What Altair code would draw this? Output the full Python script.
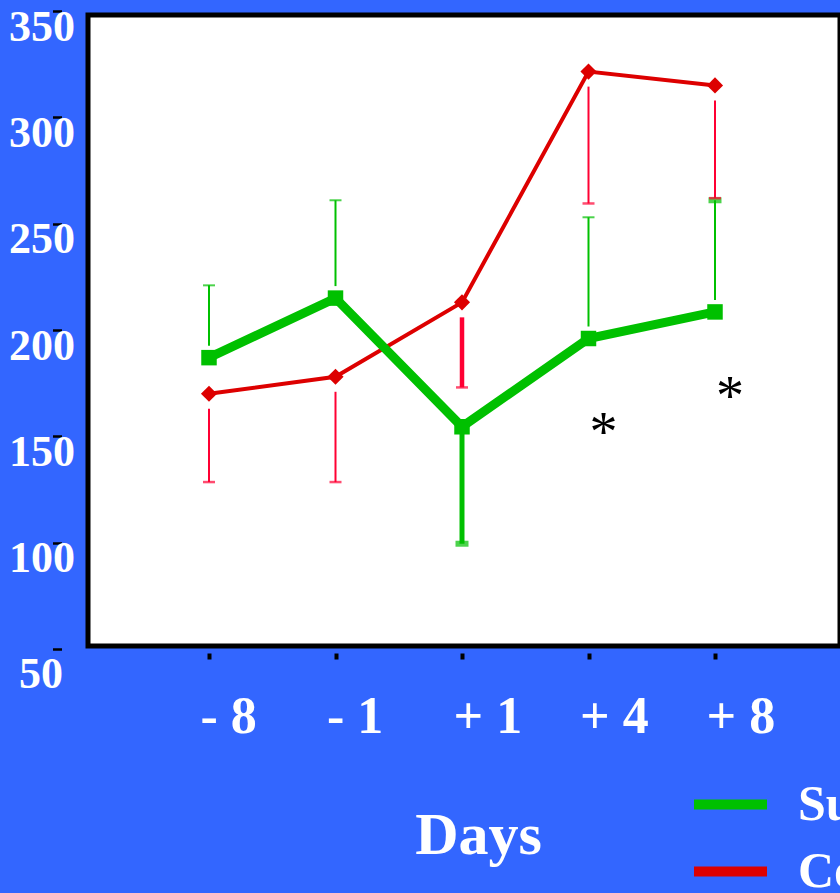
import altair as alt
import pandas as pd

# Days relative to the procedure
days = ["- 8", "- 1", "+ 1", "+ 4", "+ 8"]
groups = ["Surgery", "Control"]

# Group means and the far end of each one-sided error bar
surgery_mean = [187, 215, 154.5, 196, 208.5]
surgery_bar_end = [221, 261, 99.5, 253, 261]
control_mean = [170, 178, 213, 321.5, 315]
control_bar_end = [128.5, 128.5, 173, 259.5, 262]

# Significance markers
sig_days = ["+ 4", "+ 8"]
sig_level = [143, 160]

y_ticks = [50, 100, 150, 200, 250, 300, 350]

GREEN = "#00C000"
RED_LINE = "#DD0000"
RED_BAR = "#FF0033"
BLUE = "#3366FF"
SERIF = "Liberation Serif"

rows = []
for g, means, ends in [("Surgery", surgery_mean, surgery_bar_end),
                       ("Control", control_mean, control_bar_end)]:
    for d, m, e in zip(days, means, ends):
        rows.append({"day": d, "group": g, "mean": m, "end": e})
df = pd.DataFrame(rows)
sig = pd.DataFrame({"day": sig_days, "level": sig_level})

x_scale = alt.Scale(type="point", domain=days, range=[121, 627], padding=0)
y_scale = alt.Scale(domain=[50, 350], range=[634, -4], nice=False, zero=False)

x_axis = alt.Axis(
    domain=False, grid=False, ticks=True, tickColor="black", tickSize=6,
    tickWidth=4, offset=7, labelColor="white", labelFont=SERIF,
    labelFontWeight="bold", labelFontSize=52, labelAlign="left", labelAngle=0,
    labelOffset=-9, labelPadding=32, labelBaseline="top",
    title="Days", titleColor="white", titleFont=SERIF, titleFontWeight="bold",
    titleFontSize=60, titleX=390, titleY=200, titleBaseline="alphabetic",
    titleAlign="center", labelOverlap=False,
)
y_axis = alt.Axis(
    values=y_ticks, domain=False, grid=False, ticks=True, tickColor="black",
    tickSize=9, tickWidth=2.5, offset=26.5, labelColor="white",
    labelFont=SERIF, labelFontWeight="bold", labelFontSize=44,
    labelAlign="right", labelBaseline="middle", labelFlush=False,
    labelOverlap=False, title=None,
    labelPadding={"condition": {"test": "datum.value == 50", "value": -10}, "value": -22},
    labelOffset={"condition": {"test": "datum.value == 50", "value": 25}, "value": 16},
)

X = alt.X("day:N", scale=x_scale, sort=days, axis=x_axis)
Y = alt.Y("mean:Q", scale=y_scale, axis=y_axis)
Y_END = alt.Y("end:Q", scale=y_scale, axis=y_axis)

legend = alt.Legend(
    orient="none", legendX=601, legendY=748, title=None,
    symbolType="stroke", symbolSize=5329, symbolStrokeWidth=10,
    labelFont=SERIF, labelFontWeight="bold", labelFontSize=50,
    labelColor="white", labelOffset=26, rowPadding=0, labelLimit=0,
)
color = alt.Color("group:N", scale=alt.Scale(domain=groups, range=[GREEN, RED_LINE]),
                  legend=legend)

base = alt.Chart(df)
surg = base.transform_filter("datum.group == 'Surgery'")
ctrl = base.transform_filter("datum.group == 'Control'")

# Error bar stems
green_up = surg.transform_filter("datum.end > datum.mean").mark_rule(
    color=GREEN, yOffset=-12, strokeWidth=2).encode(x=X, y=Y, y2="end:Q")
green_down = surg.transform_filter("datum.end < datum.mean").mark_rule(
    color=GREEN, strokeWidth=5).encode(x=X, y=Y, y2="end:Q")
red_down = ctrl.mark_rule(color=RED_BAR, yOffset=15).encode(
    x=X, y=Y, y2="end:Q",
    strokeWidth=alt.condition("datum.day == '+ 1'", alt.value(4.5), alt.value(2)))

# Error bar caps
thick_cap = "datum.day == '+ 1' || datum.day == '+ 8'"
green_caps_thin = surg.transform_filter(f"!({thick_cap})").mark_tick(
    orient="horizontal", size=12, thickness=2, color=GREEN).encode(x=X, y=Y_END)
green_caps_thick = surg.transform_filter(thick_cap).mark_tick(
    orient="horizontal", size=13, thickness=6, color=GREEN).encode(x=X, y=Y_END)
red_caps = ctrl.mark_tick(orient="horizontal", size=12, thickness=2.5,
                          color=RED_BAR).encode(x=X, y=Y_END)

# Mean lines (green drawn over red)
red_line = ctrl.mark_line(strokeWidth=4).encode(x=X, y=Y, color=color)
green_line = surg.mark_line(strokeWidth=9).encode(x=X, y=Y, color=color)

# Markers
red_pts = ctrl.mark_point(shape="diamond", filled=True, size=260, color=RED_LINE,
                          opacity=1).encode(x=X, y=Y)
green_pts = surg.mark_point(shape="square", filled=True, size=240, color=GREEN,
                            opacity=1).encode(x=X, y=Y)

stars = alt.Chart(sig).mark_text(
    text="*", font=SERIF, fontSize=56, color="black", baseline="alphabetic", dx=15
).encode(x=alt.X("day:N", scale=x_scale, sort=days, axis=x_axis),
         y=alt.Y("level:Q", scale=y_scale, axis=y_axis))

chart = alt.layer(
    green_up, green_down, red_down,
    green_caps_thin, green_caps_thick, red_caps,
    red_line, green_line, red_pts, green_pts, stars,
).properties(
    width=752, height=631, background=BLUE,
    padding={"left": 88, "top": 15, "right": 0, "bottom": 247},
    autosize=alt.AutoSizeParams(type="none"),
).configure_view(fill="white", stroke="black", strokeWidth=5)

chart.save("out.html", embed_options={"renderer": "svg", "actions": False})
